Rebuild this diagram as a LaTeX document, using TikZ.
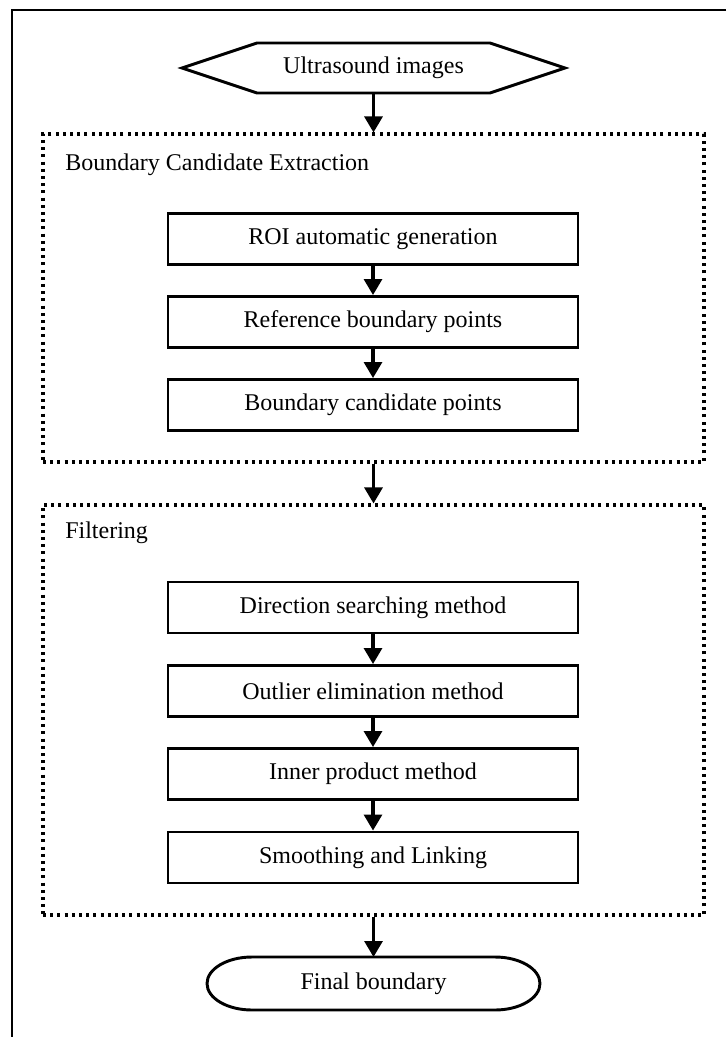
\documentclass[tikz,border=0pt]{standalone}
\usepackage{fontspec}
\setmainfont{Liberation Serif}
\usetikzlibrary{arrows.meta,calc,fit}
\begin{document}
\begin{tikzpicture}[x=0.75pt,y=-0.75pt,
  font=\fontsize{18pt}{21pt}\selectfont,
  stepbox/.style={draw, line width=2.2pt, minimum width=307.5pt, minimum height=38.25pt, inner sep=0pt},
  groupbox/.style={draw, line width=2.3pt, dash pattern=on 2.2pt off 3.2pt, inner sep=0pt},
  arr/.style={line width=2.3pt, -{Triangle[width=13.5pt,length=12pt]}},
  shapeline/.style={line width=2.2pt, line join=miter}]
\useasboundingbox (0,0) rectangle (726,1037);
\fill[white] (0,0) rectangle (726,1037);
\draw[line width=1.6pt] (726,10) -- (12,10) -- (12,1037);

% start hexagon
\node[minimum width=174.75pt, minimum height=37.5pt, inner sep=0pt, outer sep=0pt] (src) at (373.5,68) {Ultrasound images};
\draw[shapeline] (src.north west) -- (src.north east) -- ($(src.east)+(75,0)$) -- (src.south east) -- (src.south west) -- ($(src.west)+(-75,0)$) -- cycle;

% group 1
\node[groupbox, fit={(43,134) (704,462)}] (g1) {};
\node[anchor=base west, inner sep=0pt] (l1) at (65,171) {Boundary Candidate Extraction};
\node[stepbox] (roi) at (373,239) {ROI automatic generation};
\node[stepbox] (ref) at (373,322) {Reference boundary points};
\node[stepbox] (cand) at (373,405) {Boundary candidate points};

% group 2
\node[groupbox, fit={(43,505) (704,915)}] (g2) {};
\node[anchor=base west, inner sep=0pt] (l2) at (65,538) {Filtering};
\node[stepbox] (dir) at (373,607.5) {Direction searching method};
\node[stepbox] (outl) at (373,691) {Outlier elimination method};
\node[stepbox] (inn) at (373,774) {Inner product method};
\node[stepbox] (smo) at (373,857.5) {Smoothing and Linking};

% terminal
\node[minimum width=249.75pt, minimum height=39.75pt, inner sep=0pt, outer sep=0pt] (fin) at (373.5,983.5) {Final boundary};
\draw[shapeline] ($(fin.north west)+(45,0)$) -- ($(fin.north east)+(-45,0)$) arc[start angle=90,end angle=-90,x radius=33.75pt,y radius=19.875pt] -- ($(fin.south west)+(45,0)$) arc[start angle=270,end angle=90,x radius=33.75pt,y radius=19.875pt] -- cycle;

% connectors
\draw[arr] (src.south) -- (g1.north);
\draw[arr] (roi.south) -- (ref.north);
\draw[arr] (ref.south) -- (cand.north);
\draw[arr] (g1.south) -- (g2.north);
\draw[arr] (dir.south) -- (outl.north);
\draw[arr] (outl.south) -- (inn.north);
\draw[arr] (inn.south) -- (smo.north);
\draw[arr] (g2.south) -- (fin.north);
\end{tikzpicture}
\end{document}
